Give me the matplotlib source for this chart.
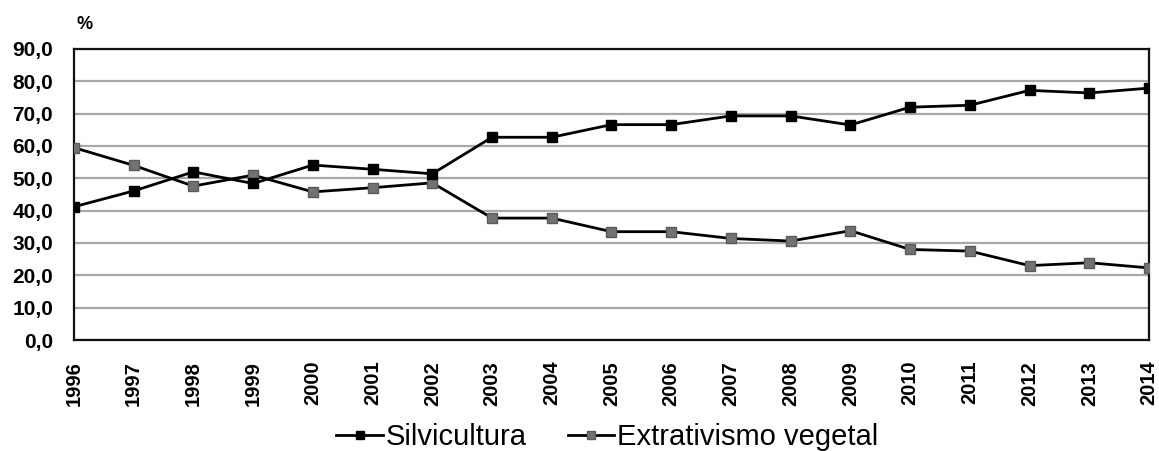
import matplotlib
matplotlib.use("Agg")
import matplotlib.pyplot as plt

plt.rcParams['font.family'] = ['Liberation Sans', 'DejaVu Sans']

# participação percentual por ano
anos = list(range(1996, 2015))
silvicultura = [41.2, 46.1, 52.0, 48.4, 54.1, 52.8, 51.4, 62.7, 62.7, 66.6,
                66.6, 69.3, 69.3, 66.5, 72.0, 72.6, 77.2, 76.4, 77.9]
extrativismo = [59.5, 54.0, 47.6, 51.0, 45.8, 47.1, 48.6, 37.7, 37.7, 33.5,
                33.5, 31.4, 30.6, 33.8, 28.0, 27.5, 23.0, 23.9, 22.3]
yticks = [0, 10, 20, 30, 40, 50, 60, 70, 80, 90]
ytick_labels = ['0,0', '10,0', '20,0', '30,0', '40,0', '50,0', '60,0', '70,0', '80,0', '90,0']

fig = plt.figure(figsize=(11.59, 4.51), dpi=100)
ax = fig.add_axes([0.0638, 0.2461, 0.9276, 0.6453])

ax.plot(anos, silvicultura, color='black', lw=2, marker='s', ms=7.8,
        mfc='black', mec='black', label='Silvicultura', zorder=4)
ax.plot(anos, extrativismo, color='black', lw=2, marker='s', ms=7.8,
        mfc='#727272', mec='#5a5a5a', label='Extrativismo vegetal', zorder=3)

ax.set_xlim(1996, 2014)
ax.set_ylim(0, 90)
ax.set_yticks(yticks)
ax.set_yticklabels(ytick_labels, fontsize=15, fontweight='bold')
ax.set_xticks(anos)
ax.set_xticklabels([str(a) for a in anos], rotation=90, fontsize=14.5, fontweight='bold')
ax.tick_params(length=0)
ax.tick_params(axis='y', pad=15)
ax.tick_params(axis='x', pad=15)
ax.yaxis.grid(True, color='#a8a8a8', lw=1.6)
ax.set_axisbelow(True)
for s in ax.spines.values():
    s.set_linewidth(1.6)
    s.set_color('#111111')

fig.text(0.0664, 0.9357, '%', fontsize=13, fontweight='bold')
# título (cortado no topo)
fig.text(0.26, 1.010, 'Participação percentual', fontsize=17, fontweight='bold',
         va='baseline')

fig.legend(loc='center', bbox_to_anchor=(0.524, 0.03), ncol=2, frameon=False,
           fontsize=21, handlelength=1.6, handletextpad=0.1, columnspacing=1.4,
           markerscale=0.7)

fig.savefig('out.png', dpi=100)
